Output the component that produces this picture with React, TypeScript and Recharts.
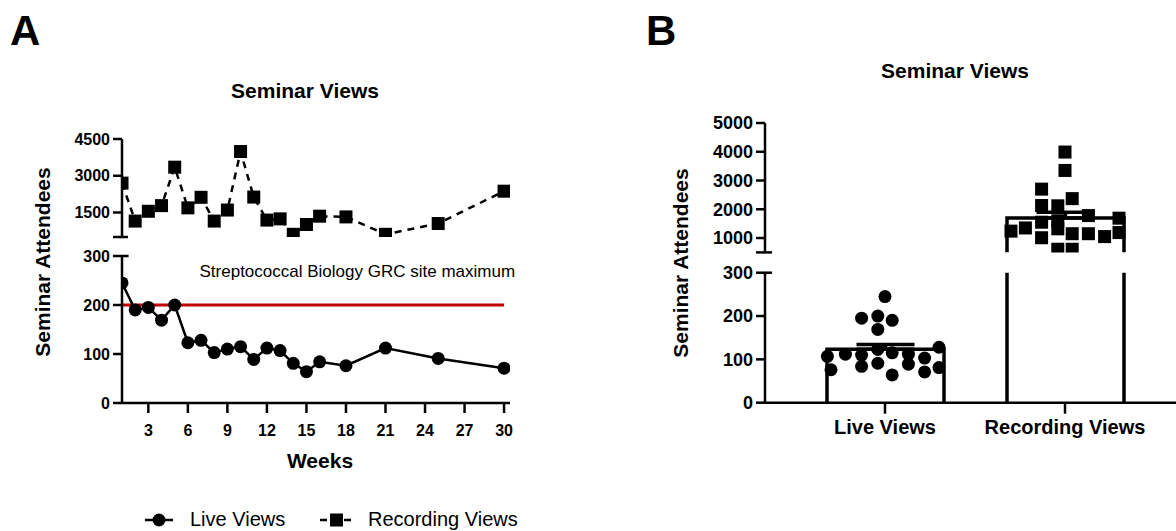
import React from "react";
import {
  LineChart,
  Line,
  XAxis,
  YAxis,
  ReferenceLine,
  ComposedChart,
  Bar,
  ErrorBar,
  Scatter,
} from "recharts";

const FONT = "'Liberation Sans', Arial, Helvetica, sans-serif";
const INK = "#000";
const SITE_RED = "#c00000";

// seminar weeks and the views of each seminar
const weeks = [1, 2, 3, 4, 5, 6, 7, 8, 9, 10, 11, 12, 13, 14, 15, 16, 18, 21, 25, 30];
const liveViews = [245, 190, 195, 169, 200, 123, 128, 103, 110, 115, 89, 112, 107, 81, 64, 84, 76, 112, 91, 71];
const recordingViews = [2700, 1150, 1550, 1780, 3350, 1690, 2120, 1150, 1600, 3990, 2130, 1190, 1240, 610, 1010, 1350, 1320, 610, 1050, 2370];
const siteMaximum = 200;

const weekTicks = [3, 6, 9, 12, 15, 18, 21, 24, 27, 30];
const lowTicks = [0, 100, 200, 300];
const highTicksA = [500, 1500, 3000, 4500];
const highTicksB = [500, 1000, 2000, 3000, 4000, 5000];
const categories = ["Live Views", "Recording Views"];

// sideways spread of the points in panel B, in category widths
const liveSpread = [0, 0.04, -0.13, -0.04, -0.04, -0.04, 0.3, 0.22, -0.13, 0.04, 0.13, -0.22, -0.32, 0.3, 0.04, -0.13, -0.3, 0.13, -0.04, 0.22];
const recordingSpread = [-0.13, 0.04, -0.13, 0.13, 0, 0.3, -0.04, 0.13, -0.04, 0, -0.13, 0.3, -0.3, -0.04, -0.13, -0.22, -0.04, 0.04, 0.22, 0.04];

const mean = (a: number[]) => a.reduce((s, v) => s + v, 0) / a.length;
const sem = (a: number[]) => {
  const m = mean(a);
  const sd = Math.sqrt(a.reduce((s, v) => s + (v - m) ** 2, 0) / (a.length - 1));
  return sd / Math.sqrt(a.length);
};

const axisLine = { stroke: INK, strokeWidth: 2.5 };
const tickA = { fill: INK, fontSize: 16, fontWeight: 700, fontFamily: FONT };
const tickB = { fill: INK, fontSize: 18, fontWeight: 700, fontFamily: FONT };
const hideBreak = (v: number) => (v === 500 ? "" : String(v));

function Square(props: any) {
  const { cx, cy, index } = props;
  if (cx == null || cy == null) return <g key={`sq-${index}`} />;
  return <rect key={`sq-${index}`} x={cx - 6.5} y={cy - 6.5} width={13} height={13} fill={INK} />;
}

function Dot(props: any) {
  const { cx, cy } = props;
  return <circle cx={cx} cy={cy} r={6.5} fill={INK} />;
}

function OpenBar(props: any) {
  const { x, y, width, height } = props;
  if (x == null || y == null || !width || height == null) return null;
  return (
    <path
      d={`M${x},${y + height} L${x},${y} L${x + width},${y} L${x + width},${y + height}`}
      fill="#fff"
      stroke={INK}
      strokeWidth={3.5}
    />
  );
}

function SiteLabel(props: any) {
  const vb = props.viewBox ?? {};
  return (
    <text
      x={(vb.x ?? 0) + (vb.width ?? 0) + 11}
      y={(vb.y ?? 0) - 28}
      textAnchor="end"
      fontSize={17}
      fontFamily={FONT}
      fill={INK}
    >
      Streptococcal Biology GRC site maximum
    </text>
  );
}

export default function App() {
  const weekly = weeks.map((week, i) => ({ week, live: liveViews[i], recording: recordingViews[i] }));
  const groups = [liveViews, recordingViews];
  const bars = categories.map((name, i) => ({
    name,
    mean: mean(groups[i]),
    err: [0, sem(groups[i])],
    high: i === 1 ? mean(groups[i]) : null,
    highErr: i === 1 ? [0, sem(groups[i])] : null,
  }));
  const liveDots = liveViews.map((value, i) => ({ x: liveSpread[i], value }));
  const recordingDots = recordingViews.map((value, i) => ({ x: 1 + recordingSpread[i], value }));
  const spreadDomain: [number, number] = [-0.6667, 1.6167];

  return (
    <div
      style={{
        position: "absolute",
        left: 0,
        top: 0,
        width: 1176,
        height: 531,
        background: "#fff",
        fontFamily: FONT,
        overflow: "hidden",
      }}
    >
      {/* Panel A, recordings (upper segment) */}
      <div style={{ position: "absolute", left: 0, top: 120 }}>
        <LineChart width={530} height={130} data={weekly} margin={{ top: 19, right: 20, bottom: 13, left: 0 }}>
          <XAxis type="number" dataKey="week" domain={[1, 30.45]} allowDataOverflow hide />
          <YAxis
            type="number"
            domain={[500, 4500]}
            ticks={highTicksA}
            interval={0}
            allowDataOverflow
            width={122}
            axisLine={axisLine}
            tickLine={axisLine}
            tickSize={9}
            tickMargin={3}
            tick={tickA}
            tickFormatter={hideBreak}
          />
          <ReferenceLine segment={[{ x: 1, y: 500 }, { x: 1.45, y: 500 }]} stroke={INK} strokeWidth={2.5} ifOverflow="visible" />
          <Line
            dataKey="recording"
            stroke={INK}
            strokeWidth={2.5}
            strokeDasharray="7 6"
            dot={Square}
            isAnimationActive={false}
          />
        </LineChart>
      </div>

      {/* Panel A, live views (lower segment) */}
      <div style={{ position: "absolute", left: 0, top: 240 }}>
        <LineChart width={530} height={215} data={weekly} margin={{ top: 16, right: 20, bottom: 12, left: 0 }}>
          <XAxis
            type="number"
            dataKey="week"
            domain={[1, 30.45]}
            allowDataOverflow
            ticks={weekTicks}
            interval={0}
            height={40}
            axisLine={axisLine}
            tickLine={axisLine}
            tickSize={10}
            tickMargin={12}
            tick={tickA}
          />
          <YAxis
            type="number"
            domain={[0, 300]}
            ticks={lowTicks}
            interval={0}
            allowDataOverflow
            width={122}
            axisLine={axisLine}
            tickLine={axisLine}
            tickSize={9}
            tickMargin={3}
            tick={tickA}
          />
          <ReferenceLine segment={[{ x: 1, y: 300 }, { x: 1.5, y: 300 }]} stroke={INK} strokeWidth={2.5} ifOverflow="visible" />
          <ReferenceLine
            segment={[{ x: 1, y: siteMaximum }, { x: 30, y: siteMaximum }]}
            stroke={SITE_RED}
            strokeWidth={3}
            label={<SiteLabel />}
          />
          <Line
            dataKey="live"
            stroke={INK}
            strokeWidth={2.5}
            dot={{ r: 6.5, fill: INK, stroke: "none" }}
            isAnimationActive={false}
          />
        </LineChart>
      </div>

      {/* Panel B, upper segment */}
      <div style={{ position: "absolute", left: 640, top: 100 }}>
        <ComposedChart width={536} height={160} data={bars} margin={{ top: 23, right: 0, bottom: 7.6, left: 0 }}>
          <XAxis dataKey="name" type="category" padding={{ left: 30, right: 21 }} hide />
          <XAxis xAxisId="num" type="number" dataKey="x" domain={spreadDomain} allowDataOverflow hide />
          <YAxis
            type="number"
            domain={[500, 5000]}
            ticks={highTicksB}
            interval={0}
            allowDataOverflow
            width={125}
            axisLine={axisLine}
            tickLine={axisLine}
            tickSize={9}
            tickMargin={3}
            tick={tickB}
            tickFormatter={hideBreak}
          />
          <ReferenceLine
            xAxisId="num"
            segment={[{ x: -0.6667, y: 500 }, { x: -0.628, y: 500 }]}
            stroke={INK}
            strokeWidth={2.5}
            ifOverflow="visible"
          />
          <Bar dataKey="high" barSize={117} shape={OpenBar} isAnimationActive={false}>
            <ErrorBar dataKey="highErr" direction="y" width={29} stroke={INK} strokeWidth={3.5} />
          </Bar>
          <Scatter
            xAxisId="num"
            data={recordingDots}
            dataKey="value"
            shape={Square}
            isAnimationActive={false}
          />
        </ComposedChart>
      </div>

      {/* Panel B, lower segment */}
      <div style={{ position: "absolute", left: 640, top: 255 }}>
        <ComposedChart width={536} height={200} data={bars} margin={{ top: 17.7, right: 0, bottom: 12.3, left: 0 }}>
          <XAxis
            dataKey="name"
            type="category"
            padding={{ left: 30, right: 21 }}
            height={40}
            axisLine={axisLine}
            tickLine={axisLine}
            tickSize={11}
            tickMargin={6}
            tick={{ ...tickB, fontSize: 20 }}
            interval={0}
          />
          <XAxis xAxisId="num" type="number" dataKey="x" domain={spreadDomain} allowDataOverflow hide />
          <YAxis
            type="number"
            domain={[0, 300]}
            ticks={lowTicks}
            interval={0}
            allowDataOverflow
            width={125}
            axisLine={axisLine}
            tickLine={axisLine}
            tickSize={9}
            tickMargin={3}
            tick={tickB}
          />
          <ReferenceLine
            xAxisId="num"
            segment={[{ x: -0.6667, y: 300 }, { x: -0.628, y: 300 }]}
            stroke={INK}
            strokeWidth={2.5}
            ifOverflow="visible"
          />
          <Bar dataKey="mean" barSize={117} shape={OpenBar} isAnimationActive={false}>
            <ErrorBar dataKey="err" direction="y" width={29} stroke={INK} strokeWidth={3.5} />
          </Bar>
          <Scatter xAxisId="num" data={liveDots} dataKey="value" shape={Dot} isAnimationActive={false} />
        </ComposedChart>
      </div>

      {/* titles, axis titles, legend */}
      <svg
        width={1176}
        height={531}
        style={{ position: "absolute", left: 0, top: 0, pointerEvents: "none" }}
        fontFamily={FONT}
      >
        <text x={10} y={45} fontSize={42} fontWeight={700} fill={INK}>A</text>
        <text x={646} y={45} fontSize={42} fontWeight={700} fill={INK}>B</text>
        <text x={305} y={98} fontSize={21} fontWeight={700} textAnchor="middle" fill={INK}>Seminar Views</text>
        <text x={955} y={78} fontSize={21} fontWeight={700} textAnchor="middle" fill={INK}>Seminar Views</text>
        <text
          x={0}
          y={0}
          transform="translate(42,262) rotate(-90)"
          fontSize={21}
          fontWeight={700}
          textAnchor="middle"
          dominantBaseline="central"
          fill={INK}
        >
          Seminar Attendees
        </text>
        <text
          x={0}
          y={0}
          transform="translate(680,263) rotate(-90)"
          fontSize={21}
          fontWeight={700}
          textAnchor="middle"
          dominantBaseline="central"
          fill={INK}
        >
          Seminar Attendees
        </text>
        <text x={320} y={468} fontSize={21} fontWeight={700} textAnchor="middle" fill={INK}>Weeks</text>

        <line x1={145} y1={520} x2={173} y2={520} stroke={INK} strokeWidth={2.5} />
        <circle cx={159} cy={520} r={6.5} fill={INK} />
        <text x={190} y={526} fontSize={20} fill={INK}>Live Views</text>
        <line x1={320} y1={520} x2={351} y2={520} stroke={INK} strokeWidth={2.5} strokeDasharray="7 5" />
        <rect x={330} y={513.5} width={13} height={13} fill={INK} />
        <text x={368} y={526} fontSize={20} fill={INK}>Recording Views</text>
      </svg>
    </div>
  );
}
